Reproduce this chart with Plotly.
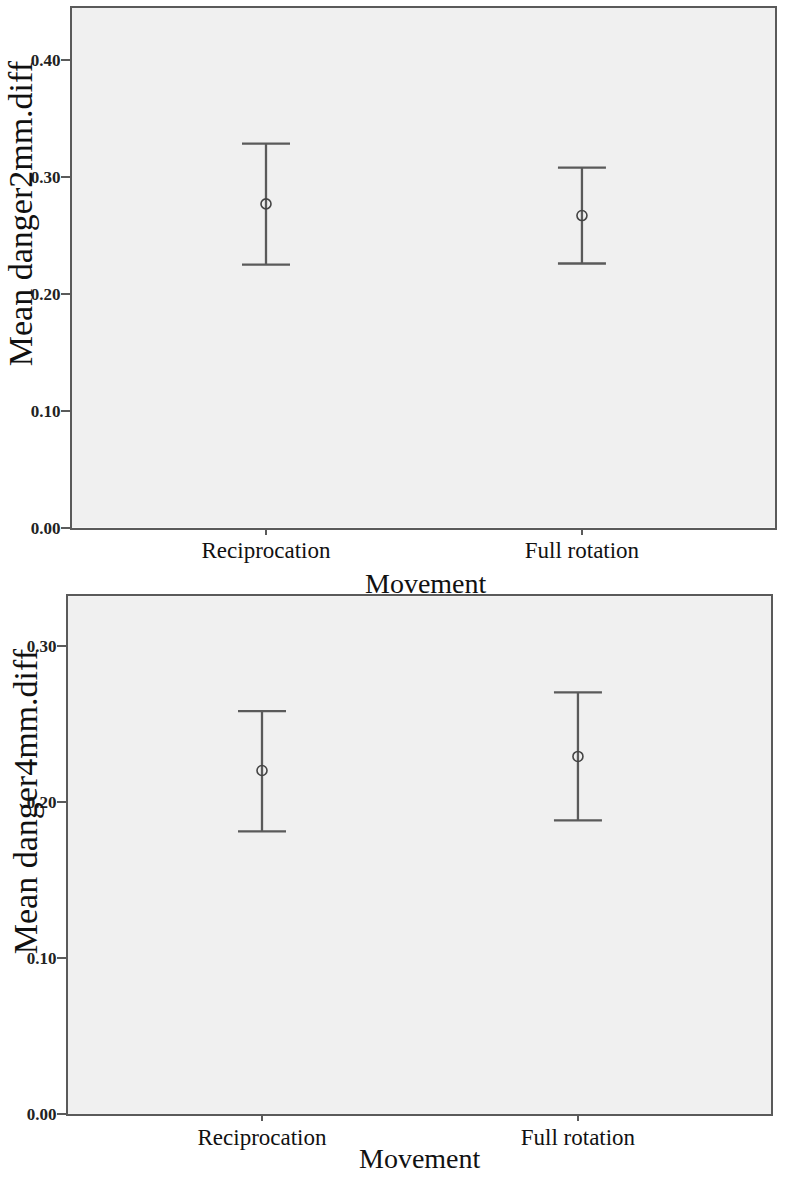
import plotly.graph_objects as go

movement = ["Reciprocation", "Full rotation"]

# danger 2mm: mean with error bar limits
mean_2mm = [0.277, 0.267]
upper_2mm = [0.3285, 0.308]
lower_2mm = [0.225, 0.226]

# danger 4mm
mean_4mm = [0.220, 0.229]
upper_4mm = [0.258, 0.270]
lower_4mm = [0.181, 0.188]

y_ticks_2mm = [0.0, 0.1, 0.2, 0.3, 0.4]
y_ticks_4mm = [0.0, 0.1, 0.2, 0.3]

LINE = "#5a5a5a"
SERIF = "Liberation Serif"

W, H = 791, 1199


def px(x):
    return x / W


def py(y):
    return 1 - y / H


def errbar_trace(means, upper, lower, xaxis, yaxis):
    return go.Scatter(
        x=movement, y=means, xaxis=xaxis, yaxis=yaxis,
        mode="markers",
        marker=dict(symbol="circle-open", size=10, color="#444", line=dict(width=1.6)),
        error_y=dict(type="data", symmetric=False,
                     array=[u - m for u, m in zip(upper, means)],
                     arrayminus=[m - l for m, l in zip(means, lower)],
                     color=LINE, thickness=2.3, width=24),
        showlegend=False, hoverinfo="skip",
    )


fig = go.Figure()
fig.add_trace(errbar_trace(mean_2mm, upper_2mm, lower_2mm, "x", "y"))
fig.add_trace(errbar_trace(mean_4mm, upper_4mm, lower_4mm, "x2", "y2"))

xcommon = dict(showline=True, linecolor=LINE, linewidth=2, mirror=True,
               ticks="outside", ticklen=5, tickcolor=LINE, tickwidth=2,
               ticklabelstandoff=-4,
               range=[-0.614, 1.611], showgrid=False, zeroline=False,
               tickfont=dict(family=SERIF, size=23, color="#111"))
ycommon = dict(showline=True, linecolor=LINE, linewidth=2, mirror=True,
               ticks="outside", ticklen=9, tickcolor=LINE, tickwidth=2,
               ticklabelstandoff=-3,
               showgrid=False, zeroline=False, tickformat=".2f",
               tickfont=dict(family=SERIF, size=17, color="#222", weight="bold"))

fig.update_layout(
    width=W, height=H,
    margin=dict(l=0, r=0, t=0, b=0),
    paper_bgcolor="white", plot_bgcolor="#f0f0f0",
    xaxis=dict(domain=[px(72), px(775)], anchor="y", **xcommon),
    yaxis=dict(domain=[py(532), py(8)], anchor="x", range=[0, 0.4447],
               tickvals=y_ticks_2mm, **ycommon),
    xaxis2=dict(domain=[px(68), px(771)], anchor="y2", **xcommon),
    yaxis2=dict(domain=[py(1123.3), py(601.3)], anchor="x2", range=[0, 0.3316],
                tickvals=y_ticks_4mm, **ycommon),
    annotations=[
        dict(text="Mean danger2mm.diff", textangle=-90, xref="paper", yref="paper",
             x=px(20), y=py(215), xanchor="center", yanchor="middle", showarrow=False,
             font=dict(family=SERIF, size=34, color="#111")),
        dict(text="Mean danger4mm.diff", textangle=-90, xref="paper", yref="paper",
             x=px(25), y=py(808), xanchor="center", yanchor="middle", showarrow=False,
             font=dict(family=SERIF, size=34, color="#111")),
        dict(text="Movement", xref="paper", yref="paper",
             x=px(426), y=py(588), xanchor="center", yanchor="middle", showarrow=False,
             font=dict(family=SERIF, size=28, color="#111")),
        dict(text="Movement", xref="paper", yref="paper",
             x=px(420), y=py(1168), xanchor="center", yanchor="middle", showarrow=False,
             font=dict(family=SERIF, size=28, color="#111")),
    ],
)

# drop the default page margin so the figure fills the window exactly
fig.write_html("out.html", config={"displayModeBar": False},
               post_script="document.body.style.margin = '0';")
